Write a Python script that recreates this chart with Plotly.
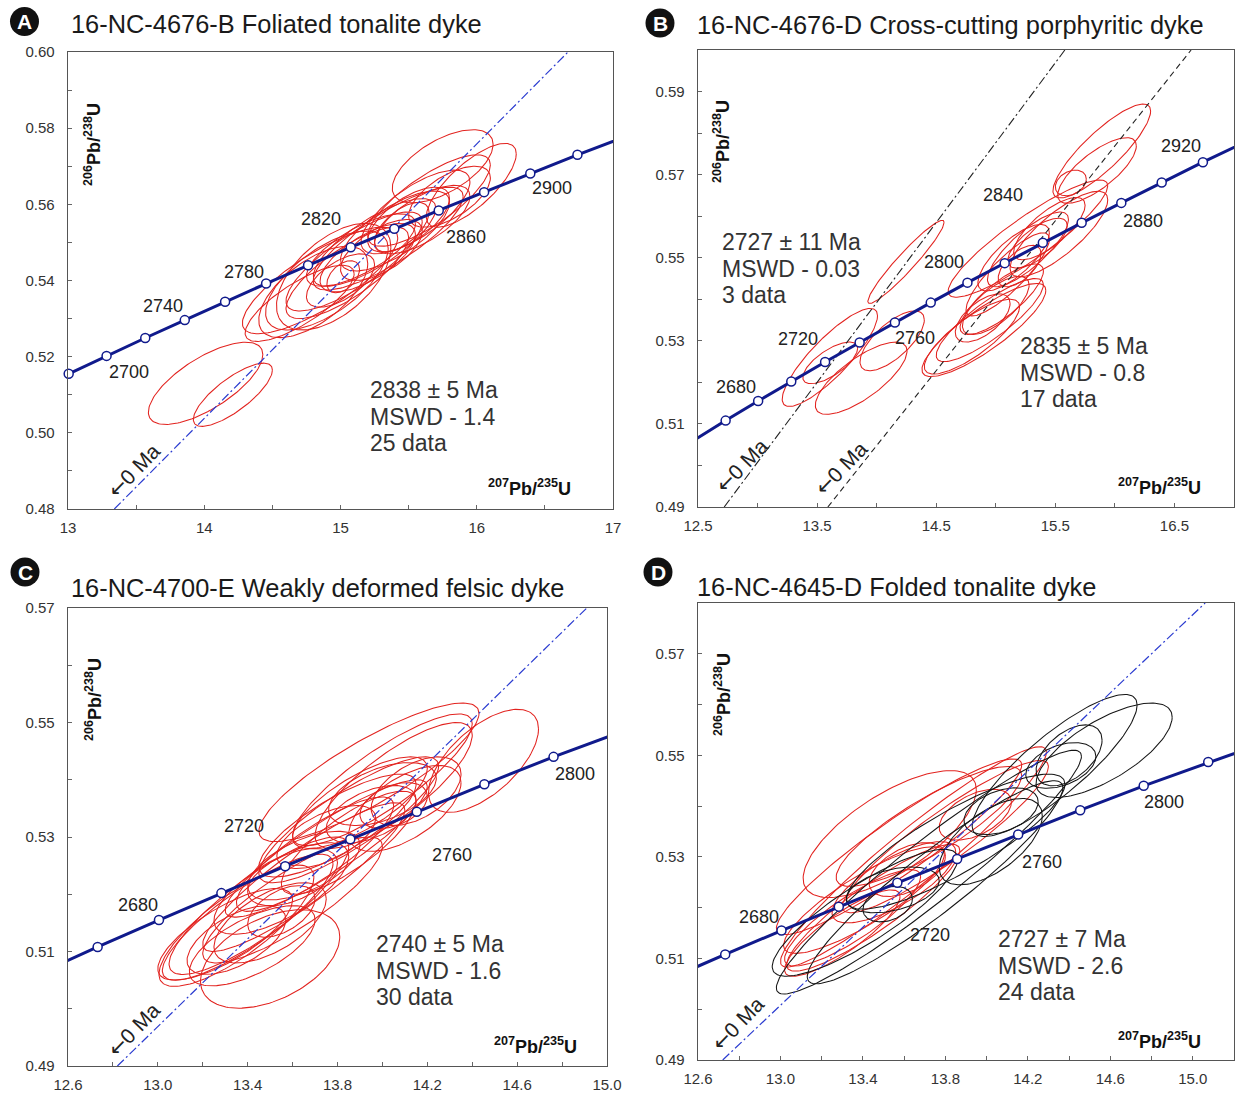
import numpy as np
import plotly.graph_objects as go

W, H = 1235, 1097
FONT = "Liberation Sans, Arial, sans-serif"

# ---------------- data ----------------
# Concordia age markers (Ma) and their ratio coordinates
conc_age = [2620, 2640, 2660, 2680, 2700, 2720, 2740, 2760, 2780, 2800,
            2820, 2840, 2860, 2880, 2900, 2920, 2940, 2960]
conc_x = [12.201, 12.464, 12.732, 13.005, 13.283, 13.567, 13.857, 14.153, 14.454, 14.762,
          15.075, 15.395, 15.721, 16.054, 16.393, 16.739, 17.092, 17.452]
conc_y = [0.5014, 0.5061, 0.5108, 0.5155, 0.5202, 0.5249, 0.5296, 0.5344, 0.5392, 0.5440,
          0.5487, 0.5536, 0.5584, 0.5632, 0.5681, 0.5730, 0.5778, 0.5828]

titles = ["16-NC-4676-B Foliated tonalite dyke",
          "16-NC-4676-D Cross-cutting porphyritic dyke",
          "16-NC-4700-E Weakly deformed felsic dyke",
          "16-NC-4645-D Folded tonalite dyke"]
badges = ["A", "B", "C", "D"]

stats_A = ["2838 ± 5 Ma", "MSWD - 1.4", "25 data"]
stats_B1 = ["2727 ± 11 Ma", "MSWD - 0.03", "3 data"]
stats_B2 = ["2835 ± 5 Ma", "MSWD - 0.8", "17 data"]
stats_C = ["2740 ± 5 Ma", "MSWD - 1.6", "30 data"]
stats_D = ["2727 ± 7 Ma", "MSWD - 2.6", "24 data"]

# labelled concordia ages per panel
labels_A = [2700, 2740, 2780, 2820, 2860, 2900]
labels_B = [2680, 2720, 2760, 2800, 2840, 2880, 2920]
labels_C = [2680, 2720, 2760, 2800]
labels_D = [2680, 2720, 2760, 2800]

# discordia chords (lower-left end, upper-right end)
disc_A = ([13.34, 16.67], [0.48, 0.60])
disc_B1 = ([12.72, 15.58], [0.49, 0.60])
disc_B2 = ([13.59, 16.64], [0.49, 0.60])
disc_C = ([12.82, 14.91], [0.49, 0.57])
disc_D = ([12.72, 15.06], [0.49, 0.58])

# error ellipses: (207Pb/235U, 206Pb/238U, sigma x, sigma y, rho)
ellipses_A = [
    (14.01, 0.513, 0.42, 0.0108, 0.70), (14.21, 0.510, 0.29, 0.0083, 0.78),
    (14.85, 0.540, 0.57, 0.0140, 0.80), (15.75, 0.570, 0.37, 0.0096, 0.60),
    (15.96, 0.565, 0.33, 0.0110, 0.75), (15.05, 0.542, 0.45, 0.0120, 0.78),
    (14.90, 0.540, 0.45, 0.0130, 0.65), (15.10, 0.545, 0.50, 0.0130, 0.80),
    (15.25, 0.550, 0.45, 0.0115, 0.78), (15.40, 0.553, 0.40, 0.0105, 0.72),
    (15.55, 0.558, 0.40, 0.0110, 0.72), (15.65, 0.561, 0.45, 0.0120, 0.78),
    (15.30, 0.548, 0.30, 0.0080, 0.62), (14.80, 0.537, 0.40, 0.0120, 0.62),
    (14.95, 0.541, 0.42, 0.0140, 0.55), (15.00, 0.540, 0.25, 0.0070, 0.60),
    (15.20, 0.546, 0.35, 0.0090, 0.68), (15.50, 0.556, 0.30, 0.0085, 0.65),
    (15.80, 0.562, 0.30, 0.0080, 0.62), (15.02, 0.541, 0.12, 0.0042, 0.45),
    (15.45, 0.554, 0.20, 0.0065, 0.60), (15.15, 0.548, 0.40, 0.0095, 0.72),
    (14.70, 0.534, 0.40, 0.0100, 0.78), (15.60, 0.556, 0.35, 0.0090, 0.68),
    (15.35, 0.551, 0.55, 0.0135, 0.82),
]
ellipses_B = [
    (14.246, 0.549, 0.32, 0.0100, 0.95), (13.607, 0.526, 0.40, 0.0118, 0.85),
    (13.61, 0.5247, 0.23, 0.0050, 0.70), (13.87, 0.521, 0.385, 0.0087, 0.75),
    (14.13, 0.530, 0.27, 0.0072, 0.70), (15.89, 0.5757, 0.41, 0.0113, 0.85),
    (15.85, 0.571, 0.33, 0.0079, 0.75), (15.63, 0.568, 0.13, 0.0031, 0.30),
    (15.27, 0.5546, 0.67, 0.0141, 0.90), (15.53, 0.5557, 0.41, 0.0103, 0.80),
    (15.27, 0.552, 0.34, 0.0090, 0.80), (15.15, 0.550, 0.30, 0.0080, 0.75),
    (15.35, 0.5535, 0.25, 0.0060, 0.70), (15.10, 0.546, 0.35, 0.0100, 0.85),
    (14.90, 0.5326, 0.52, 0.0112, 0.85), (14.89, 0.5355, 0.23, 0.0058, 0.60),
    (14.95, 0.535, 0.45, 0.0100, 0.85), (14.80, 0.531, 0.40, 0.0090, 0.80),
    (15.05, 0.540, 0.35, 0.0085, 0.80), (15.20, 0.548, 0.18, 0.0050, 0.60),
    (15.45, 0.557, 0.30, 0.0075, 0.75), (15.00, 0.5385, 0.28, 0.0070, 0.70),
]
ellipses_C = [
    (14.45, 0.5433, 0.245, 0.0090, 0.62), (13.94, 0.5413, 0.49, 0.0121, 0.85),
    (14.00, 0.5400, 0.40, 0.0115, 0.85), (14.05, 0.5390, 0.35, 0.0110, 0.80),
    (14.00, 0.5375, 0.24, 0.0055, 0.50), (13.90, 0.5360, 0.30, 0.0080, 0.75),
    (13.85, 0.5330, 0.40, 0.0110, 0.85), (14.10, 0.5350, 0.25, 0.0075, 0.60),
    (13.80, 0.5320, 0.35, 0.0090, 0.80), (13.75, 0.5280, 0.45, 0.0120, 0.90),
    (14.15, 0.5380, 0.20, 0.0060, 0.50), (13.95, 0.5340, 0.20, 0.0050, 0.50),
    (13.50, 0.5087, 0.31, 0.0086, 0.45), (13.35, 0.5145, 0.345, 0.0106, 0.80),
    (13.40, 0.5160, 0.38, 0.0110, 0.85), (13.45, 0.5180, 0.40, 0.0120, 0.85),
    (13.55, 0.5210, 0.30, 0.0080, 0.70), (13.60, 0.5230, 0.20, 0.0050, 0.50),
    (13.50, 0.5150, 0.25, 0.0070, 0.60), (13.65, 0.5250, 0.25, 0.0060, 0.60),
    (13.30, 0.5130, 0.30, 0.0080, 0.75), (13.70, 0.5270, 0.35, 0.0100, 0.85),
    (13.60, 0.5190, 0.40, 0.0110, 0.85), (13.42, 0.5110, 0.28, 0.0070, 0.65),
    (13.75, 0.5300, 0.22, 0.0055, 0.60), (13.55, 0.5170, 0.15, 0.0045, 0.50),
    (13.85, 0.5290, 0.30, 0.0090, 0.80), (14.05, 0.5355, 0.15, 0.0040, 0.40),
    (13.35, 0.5120, 0.22, 0.0060, 0.60), (13.65, 0.5230, 0.45, 0.0130, 0.90),
]
ellipses_D_red = [
    (13.53, 0.5345, 0.42, 0.0125, 0.70), (13.645, 0.530, 0.645, 0.0217, 0.95),
    (13.575, 0.532, 0.595, 0.0173, 0.93), (13.405, 0.5215, 0.39, 0.0105, 0.85),
    (13.615, 0.5275, 0.185, 0.0053, 0.50), (13.945, 0.5383, 0.175, 0.0050, 0.50),
    (13.72, 0.536, 0.45, 0.0118, 0.85), (13.35, 0.5180, 0.33, 0.0095, 0.85),
    (13.45, 0.5200, 0.42, 0.0125, 0.90), (13.55, 0.5250, 0.30, 0.0080, 0.75),
    (13.30, 0.5150, 0.28, 0.0085, 0.85), (13.80, 0.5340, 0.50, 0.0150, 0.92),
]
ellipses_D_black = [
    (14.57, 0.5510, 0.33, 0.0093, 0.70), (14.33, 0.5480, 0.40, 0.0140, 0.85),
    (13.72, 0.5270, 0.74, 0.0240, 0.95), (13.75, 0.5250, 0.62, 0.0200, 0.93),
    (13.52, 0.5207, 0.12, 0.0035, 0.30), (13.545, 0.5235, 0.225, 0.0045, 0.40),
    (14.02, 0.5330, 0.25, 0.0085, 0.60), (14.07, 0.5390, 0.18, 0.0046, 0.40),
    (14.36, 0.5480, 0.17, 0.0045, 0.40), (13.85, 0.5330, 0.53, 0.0133, 0.85),
    (13.41, 0.5190, 0.45, 0.0125, 0.85), (14.40, 0.5500, 0.16, 0.0060, 0.50),
]

# ---------------- helpers ----------------
def pxx(x):
    return x / W


def pxy(y):
    return 1 - y / H


def ellipse_xy(lst):
    t = np.linspace(0, 2 * np.pi, 140)
    xs, ys = [], []
    for cx, cy, sx, sy, r in lst:
        xs += list(cx + sx * np.cos(t)) + [None]
        ys += list(cy + sy * (r * np.cos(t) + np.sqrt(1 - r * r) * np.sin(t))) + [None]
    return xs, ys


RED = "#e2231f"
NAVY = "#101a8c"
BLUE = "#2a3bd0"

# panel geometry (pixel boxes) and axis settings
panels = [
    dict(ax="", box=(68, 613, 52, 509), xr=[13, 17], yr=[0.48, 0.60], xt0=13, xdt=1, xm=0.5,
         xfmt=".0f", yt0=0.48),
    dict(ax="2", box=(698, 1234, 50, 507), xr=[12.5, 17.0], yr=[0.49, 0.60], xt0=12.5, xdt=1, xm=0.5,
         xfmt=".1f", yt0=0.49),
    dict(ax="3", box=(68, 607, 608, 1066), xr=[12.6, 15.0], yr=[0.49, 0.57], xt0=12.6, xdt=0.4, xm=0.2,
         xfmt=".1f", yt0=0.49),
    dict(ax="4", box=(698, 1234, 603, 1060), xr=[12.6, 15.2], yr=[0.49, 0.58], xt0=12.6, xdt=0.4, xm=0.2,
         xfmt=".1f", yt0=0.49),
]

fig = go.Figure()

def add_lines(xs, ys, ax, color, width, dash="solid"):
    fig.add_trace(go.Scatter(x=xs, y=ys, mode="lines", xaxis="x" + ax, yaxis="y" + ax,
                             line=dict(color=color, width=width, dash=dash),
                             hoverinfo="skip", showlegend=False))

# ellipses
for lst, ax, col in [(ellipses_A, "", RED), (ellipses_B, "2", RED), (ellipses_C, "3", RED),
                     (ellipses_D_red, "4", RED), (ellipses_D_black, "4", "#151515")]:
    ex, ey = ellipse_xy(lst)
    add_lines(ex, ey, ax, col, 1.05)

# discordia
add_lines(*disc_A, "", BLUE, 1.2, "9px,3px,2px,3px")
add_lines(*disc_B1, "2", "#222222", 1.1, "9px,3px,2px,3px")
add_lines(*disc_B2, "2", "#222222", 1.1, "6px,4px")
add_lines(*disc_C, "3", BLUE, 1.2, "9px,3px,2px,3px")
add_lines(*disc_D, "4", BLUE, 1.2, "9px,3px,2px,3px")

# concordia
for p in panels:
    ax = p["ax"]
    add_lines(conc_x, conc_y, ax, NAVY, 3)
    inside = [(x, y) for x, y in zip(conc_x, conc_y)
              if p["xr"][0] <= x <= p["xr"][1] and p["yr"][0] <= y <= p["yr"][1]]
    fig.add_trace(go.Scatter(x=[v[0] for v in inside], y=[v[1] for v in inside], mode="markers",
                             xaxis="x" + ax, yaxis="y" + ax,
                             marker=dict(size=9, color="white", line=dict(color=NAVY, width=1.5)),
                             cliponaxis=False, hoverinfo="skip", showlegend=False))

# ---------------- layout ----------------
layout = dict(width=W, height=H, margin=dict(l=0, r=0, t=0, b=0, autoexpand=False),
              paper_bgcolor="white", plot_bgcolor="white", showlegend=False)

for p in panels:
    x0, x1, y0, y1 = p["box"]
    ax = p["ax"]
    common = dict(showline=True, linecolor="#555555", linewidth=1.3, mirror=True,
                  showgrid=False, zeroline=False, ticks="inside", ticklen=4,
                  tickcolor="#666666", tickwidth=1, automargin=False,
                  tickfont=dict(family=FONT, size=15, color="#333333"))
    layout["xaxis" + ax] = dict(common, domain=[pxx(x0), pxx(x1)], range=p["xr"],
                                anchor="y" + ax, tick0=p["xt0"], dtick=p["xdt"],
                                tickformat=p["xfmt"], ticklabelstandoff=5,
                                minor=dict(ticks="inside", ticklen=4, tickcolor="#666666",
                                           tick0=p["xt0"], dtick=p["xm"]))
    layout["yaxis" + ax] = dict(common, domain=[pxy(y1), pxy(y0)], range=p["yr"],
                                anchor="x" + ax, tick0=p["yt0"], dtick=0.02,
                                tickformat=".2f", ticklabelstandoff=9,
                                minor=dict(ticks="inside", ticklen=4, tickcolor="#666666",
                                           tick0=p["yt0"], dtick=0.01))

fig.update_layout(**layout)

ann = []
shapes = []

# titles and badges
title_pos = [(69, 24), (695, 25), (69, 588), (695, 587)]
badge_pos = [(24.5, 21.5), (660, 23), (25, 572), (658, 572)]
for t, (tx, ty), b, (bx, by) in zip(titles, title_pos, badges, badge_pos):
    ann.append(dict(x=pxx(tx), y=pxy(ty), xref="paper", yref="paper", text=t, showarrow=False,
                    xanchor="left", yanchor="middle", font=dict(family=FONT, size=25.4, color="#1a1a1a")))
    r = 14.5
    shapes.append(dict(type="circle", xref="paper", yref="paper", x0=pxx(bx - r), x1=pxx(bx + r),
                       y0=pxy(by + r), y1=pxy(by - r), fillcolor="#111111", line=dict(width=0)))
    ann.append(dict(x=pxx(bx), y=pxy(by + 0.5), xref="paper", yref="paper", text="<b>%s</b>" % b,
                    showarrow=False, xanchor="center", yanchor="middle",
                    font=dict(family=FONT, size=21, color="white")))

# axis titles
ytitle = "<b><sup>206</sup>Pb/<sup>238</sup>U</b>"
xtitle = "<b><sup>207</sup>Pb/<sup>235</sup>U</b>"
for (yx, yy), (xx, xy) in zip([(93, 145), (721, 142), (93, 700), (722, 695)],
                              [(529, 487), (1159, 486), (535, 1045), (1159, 1040)]):
    ann.append(dict(x=pxx(yx), y=pxy(yy), xref="paper", yref="paper", text=ytitle, textangle=-90,
                    showarrow=False, xanchor="center", yanchor="middle",
                    font=dict(family=FONT, size=18, color="#111111")))
    ann.append(dict(x=pxx(xx), y=pxy(xy), xref="paper", yref="paper", text=xtitle,
                    showarrow=False, xanchor="center", yanchor="middle",
                    font=dict(family=FONT, size=18, color="#111111")))

# statistics blocks
for lines, (lx, ly) in [(stats_A, (368, 390)), (stats_B1, (720, 242)), (stats_B2, (1018, 346)),
                        (stats_C, (374, 944)), (stats_D, (996, 939))]:
    for i, s in enumerate(lines):
        ann.append(dict(x=pxx(lx), y=pxy(ly + 26.7 * i), xref="paper", yref="paper", text=s,
                        showarrow=False, xanchor="left", yanchor="middle",
                        font=dict(family=FONT, size=23, color="#333333")))

# "0 Ma" arrows along discordia
zero_label = '<span style="font-family:DejaVu Sans">\u2190</span>0 Ma'
for (zx, zy) in [(134, 471), (742, 466), (842, 468), (134, 1030), (738, 1024)]:
    ann.append(dict(x=pxx(zx), y=pxy(zy), xref="paper", yref="paper", text=zero_label,
                    textangle=-46, showarrow=False, xanchor="center", yanchor="middle",
                    font=dict(family=FONT, size=21, color="#222222")))

# concordia age labels (offsets in pixels from their markers)
offsets = {
    "": {2700: (22, -16), 2740: (-22, 14), 2780: (-22, 12), 2820: (-30, 28), 2860: (27, -27), 2900: (22, -15)},
    "2": {2680: (-22, 14), 2720: (-27, 23), 2760: (20, -15), 2800: (-23, 21), 2840: (-40, 48),
          2880: (22, -18), 2920: (-22, 16)},
    "3": {2680: (-21, 15), 2720: (-41, 40), 2760: (35, -43), 2800: (21, -17)},
    "4": {2680: (-22, 14), 2720: (33, -52), 2760: (24, -27), 2800: (20, -16)},
}
for ax, labs in [("", labels_A), ("2", labels_B), ("3", labels_C), ("4", labels_D)]:
    for a in labs:
        i = conc_age.index(a)
        dx, dy = offsets[ax][a]
        ann.append(dict(x=conc_x[i], y=conc_y[i], xref="x" + ax, yref="y" + ax, text=str(a),
                        showarrow=False, xshift=dx, yshift=dy, xanchor="center", yanchor="middle",
                        font=dict(family=FONT, size=18, color="#222222")))

fig.update_layout(annotations=ann, shapes=shapes)
fig.write_html("out.html", config={"displayModeBar": False, "staticPlot": True},
               post_script="document.body.style.margin='0px';document.body.style.padding='0px';"
                           "document.body.style.overflow='hidden';")
